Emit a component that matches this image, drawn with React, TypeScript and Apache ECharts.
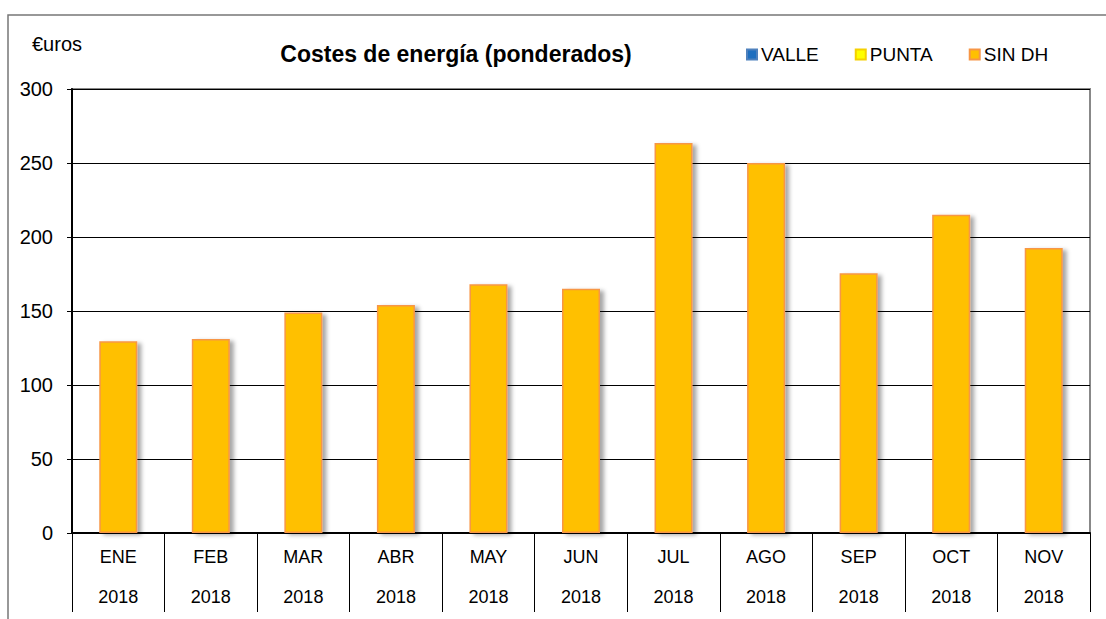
import React, { useEffect, useRef } from "react";
import * as echarts from "echarts";

const months = ["ENE", "FEB", "MAR", "ABR", "MAY", "JUN", "JUL", "AGO", "SEP", "OCT", "NOV"];
const years = ["2018", "2018", "2018", "2018", "2018", "2018", "2018", "2018", "2018", "2018", "2018"];
const valle: (number | null)[] = [null, null, null, null, null, null, null, null, null, null, null];
const punta: (number | null)[] = [null, null, null, null, null, null, null, null, null, null, null];
const sinDH = [129.5, 131, 149, 154, 168, 165, 263.5, 250, 175.5, 215, 192.5];
const yTicks = { min: 0, max: 300, interval: 50 };

const FONT = "'Liberation Sans', Arial, sans-serif";

export default function App() {
  const ref = useRef<HTMLDivElement>(null);
  useEffect(() => {
    if (!ref.current) return;
    const chart = echarts.init(ref.current, null, { renderer: "svg" });
    const barStyle = {
      color: "#FFC000",
      borderColor: "#F79646",
      borderWidth: 1.5,
      shadowColor: "rgba(0,0,0,0.35)",
      shadowBlur: 4,
      shadowOffsetX: 4,
      shadowOffsetY: 2,
    };
    chart.setOption({
      animation: false,
      textStyle: { fontFamily: FONT },
      graphic: [
        {
          type: "rect",
          shape: { x: 8, y: 15, width: 1120, height: 640 },
          style: { fill: "none", stroke: "#777", lineWidth: 1.5 },
          silent: true,
        },
        {
          type: "text",
          x: 32,
          y: 44,
          style: { text: "€uros", font: `20px ${FONT}`, fill: "#000", verticalAlign: "middle" },
        },
        {
          type: "text",
          x: 456,
          y: 54,
          style: {
            text: "Costes de energía (ponderados)",
            font: `bold 23px ${FONT}`,
            fill: "#000",
            align: "center",
            verticalAlign: "middle",
          },
        },
      ],
      legend: {
        data: ["VALLE", "PUNTA", "SIN DH"],
        left: 741,
        top: 40,
        itemGap: 36,
        itemWidth: 10,
        itemHeight: 10,
        icon: "rect",
        textStyle: { fontSize: 19, color: "#000", fontFamily: FONT, padding: [0, 0, 0, -1] },
      },
      grid: {
        left: 72,
        right: 16,
        top: 89,
        bottom: 86,
        show: true,
        borderColor: "#888",
        borderWidth: 2,
      },
      xAxis: {
        type: "category",
        data: months.map((m, i) => m + "\n" + years[i]),
        axisLine: { show: true, lineStyle: { color: "#000", width: 2 } },
        axisTick: { show: true, interval: 0, length: 79, lineStyle: { color: "#000", width: 1 } },
        axisLabel: {
          interval: 0,
          fontSize: 18,
          color: "#000",
          lineHeight: 40,
          margin: 4,
          fontFamily: FONT,
        },
      },
      yAxis: {
        type: "value",
        min: yTicks.min,
        max: yTicks.max,
        interval: yTicks.interval,
        axisLine: { show: true, lineStyle: { color: "#000", width: 2 } },
        axisTick: { show: true, length: 5, lineStyle: { color: "#000" } },
        axisLabel: { fontSize: 20, color: "#000", margin: 19, fontFamily: FONT },
        splitLine: { show: true, lineStyle: { color: "#000", width: 1 } },
      },
      series: [
        {
          name: "VALLE",
          type: "bar",
          stack: "t",
          data: valle,
          itemStyle: { color: "#1F6FBF", borderColor: "#4F81BD", borderWidth: 1 },
          barWidth: 38,
        },
        {
          name: "PUNTA",
          type: "bar",
          stack: "t",
          data: punta,
          itemStyle: { color: "#FFFF00", borderColor: "#F5D000", borderWidth: 1 },
          barWidth: 38,
        },
        {
          name: "SIN DH",
          type: "bar",
          stack: "t",
          data: sinDH,
          itemStyle: barStyle,
          barWidth: 38,
        },
      ],
    });
    return () => chart.dispose();
  }, []);
  return <div ref={ref} style={{ width: 1106, height: 619, position: "absolute", left: 0, top: 0 }} />;
}
